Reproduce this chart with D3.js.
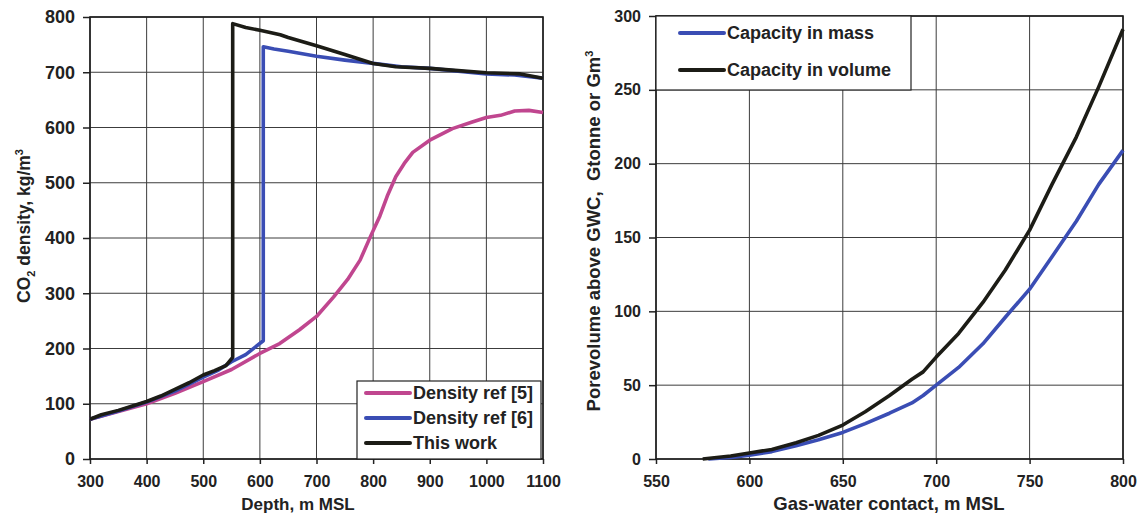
<!DOCTYPE html>
<html>
<head>
<meta charset="utf-8">
<script src="https://cdn.jsdelivr.net/npm/d3@7"></script>
<style>
  body { margin: 0; background: #fff; }
  text { font-family: "Liberation Sans", Arial, sans-serif; font-weight: bold; fill: #222; }
</style>
</head>
<body>
<div id="chart"></div>
<script>
// left panel: CO2 density vs depth
var depthRef5 = [300, 350, 400, 450, 500, 550, 600, 635, 670, 700, 730, 755, 777, 795, 812, 825, 840, 855, 870, 900, 940, 975, 1000, 1025, 1050, 1075, 1100];
var densRef5  = [72, 86, 100, 119, 140, 162, 191, 209, 234, 258, 293, 325, 360, 402, 440, 476, 511, 535, 555, 577, 598, 610, 618, 622, 630, 631, 627];

var depthRef6 = [300, 350, 400, 450, 500, 525, 550, 575, 606, 606, 625, 650, 700, 750, 800, 850, 900, 950, 1000, 1050, 1100];
var densRef6  = [72, 87, 103, 123, 148, 160, 176, 189, 214, 746, 742, 738, 729, 722, 716, 710, 707, 702, 697, 695, 689];

var depthWork = [300, 320, 350, 375, 400, 425, 450, 475, 500, 520, 540, 552, 552, 575, 600, 636, 650, 700, 750, 800, 840, 900, 950, 1000, 1060, 1100];
var densWork  = [72, 80, 88, 96, 104, 114, 126, 138, 152, 160, 169, 184, 788, 781, 776, 768, 763, 748, 732, 716, 710, 707, 703, 699, 697, 689];

var depthTicks = [300, 400, 500, 600, 700, 800, 900, 1000, 1100];
var densTicks = [0, 100, 200, 300, 400, 500, 600, 700, 800];
var leftLegend = ["Density ref [5]", "Density ref [6]", "This work"];

// right panel: capacity vs gas-water contact
var gwcMass = [578, 590, 600, 612, 625, 637, 650, 662, 675, 687, 693, 700, 712, 725, 737, 750, 762, 775, 787, 800];
var massCap = [0, 1, 2.5, 5, 9, 13, 18, 24, 31, 38, 43, 50, 62, 78, 96, 115, 137, 161, 186, 209];

var gwcVol = [575, 590, 600, 612, 625, 637, 650, 662, 675, 687, 693, 700, 712, 725, 737, 750, 762, 775, 787, 800];
var volCap = [0, 2, 4, 6.5, 11, 16, 23, 32, 43, 54, 59, 69, 85, 106, 128, 155, 186, 218, 252, 291];

var gwcTicks = [550, 600, 650, 700, 750, 800];
var capTicks = [0, 50, 100, 150, 200, 250, 300];
var rightLegend = ["Capacity in mass", "Capacity in volume"];

var magenta = "#c0468f", blue = "#3a4db4", black = "#1c1c16";

var svg = d3.select("#chart").append("svg")
  .attr("width", 1140)
  .attr("height", 516);

function zip(xs, ys) { return xs.map(function (x, i) { return [x, ys[i]]; }); }

function panel(opt) {
  var x = d3.scaleLinear().domain(opt.xDomain).range([opt.left, opt.right]);
  var y = d3.scaleLinear().domain(opt.yDomain).range([opt.bottom, opt.top]);
  var w = opt.right - opt.left, h = opt.bottom - opt.top;

  // grid
  svg.append("g").selectAll("line.vg").data(opt.xTicks).enter().append("line")
    .attr("x1", function (d) { return x(d); }).attr("x2", function (d) { return x(d); })
    .attr("y1", opt.top).attr("y2", opt.bottom)
    .attr("stroke", "#3c3c3c").attr("stroke-width", 1);
  svg.append("g").selectAll("line.hg").data(opt.yTicks).enter().append("line")
    .attr("y1", function (d) { return y(d); }).attr("y2", function (d) { return y(d); })
    .attr("x1", opt.left).attr("x2", opt.right)
    .attr("stroke", "#3c3c3c").attr("stroke-width", 1);

  // axes
  var gx = svg.append("g").attr("transform", "translate(0," + opt.bottom + ")")
    .call(d3.axisBottom(x).tickValues(opt.xTicks).tickFormat(d3.format("d")).tickSize(5).tickPadding(12));
  gx.select(".domain").remove();
  gx.selectAll("line").attr("stroke", "#222").attr("stroke-width", 1.5);
  gx.selectAll("text").style("font-size", "16px").attr("fill", "#222");

  var gy = svg.append("g").attr("transform", "translate(" + opt.left + ",0)")
    .call(d3.axisLeft(y).tickValues(opt.yTicks).tickFormat(d3.format("d")).tickSize(7).tickPadding(8));
  gy.select(".domain").remove();
  gy.selectAll("line").attr("stroke", "#222").attr("stroke-width", 1.5);
  gy.selectAll("text").style("font-size", opt.yFont + "px").attr("fill", "#222");

  // plot frame
  svg.append("rect")
    .attr("x", opt.left).attr("y", opt.top).attr("width", w).attr("height", h)
    .attr("fill", "none").attr("stroke", "#1c1c1c").attr("stroke-width", 1.6);

  var line = d3.line().x(function (d) { return x(d[0]); }).y(function (d) { return y(d[1]); });
  opt.series.forEach(function (s) {
    svg.append("path").datum(s.data)
      .attr("d", line)
      .attr("fill", "none")
      .attr("stroke", s.color)
      .attr("stroke-width", 3.6)
      .attr("stroke-linejoin", "round");
  });
  return { x: x, y: y };
}

panel({
  left: 90, right: 543, top: 17, bottom: 459,
  xDomain: [300, 1100], yDomain: [0, 800],
  xTicks: depthTicks, yTicks: densTicks, yFont: 18,
  series: [
    { data: zip(depthRef5, densRef5), color: magenta },
    { data: zip(depthRef6, densRef6), color: blue },
    { data: zip(depthWork, densWork), color: black }
  ]
});

panel({
  left: 656, right: 1123, top: 16, bottom: 459,
  xDomain: [550, 800], yDomain: [0, 300],
  xTicks: gwcTicks, yTicks: capTicks, yFont: 16,
  series: [
    { data: zip(gwcMass, massCap), color: blue },
    { data: zip(gwcVol, volCap), color: black }
  ]
});

// legends
function legend(bx, by, bw, bh, items, colors, rowY, lineX) {
  svg.append("rect").attr("x", bx).attr("y", by).attr("width", bw).attr("height", bh)
    .attr("fill", "#fff").attr("stroke", "#222").attr("stroke-width", 1.2);
  items.forEach(function (t, i) {
    svg.append("line")
      .attr("x1", lineX).attr("x2", lineX + 44)
      .attr("y1", rowY[i]).attr("y2", rowY[i])
      .attr("stroke", colors[i]).attr("stroke-width", 4).attr("stroke-linecap", "round");
    svg.append("text")
      .attr("x", lineX + 47).attr("y", rowY[i] + 6)
      .style("font-size", "18px")
      .text(t);
  });
}
legend(357, 381, 184, 78, leftLegend, [magenta, blue, black], [393, 418, 443], 366);
legend(656, 16, 255, 74, rightLegend, [blue, black], [33, 70], 680);

// axis titles
var yl = svg.append("text")
  .attr("transform", "translate(30,226) rotate(-90)")
  .attr("text-anchor", "middle")
  .style("font-size", "17.5px");
yl.append("tspan").text("CO");
yl.append("tspan").attr("dy", 5).style("font-size", "11px").text("2");
yl.append("tspan").attr("dy", -5).text(" density, kg/m");
yl.append("tspan").attr("dy", -7).style("font-size", "11px").text("3");

var yr = svg.append("text")
  .attr("transform", "translate(600,231) rotate(-90)")
  .attr("text-anchor", "middle")
  .style("font-size", "18.5px")
  .style("white-space", "pre");
yr.append("tspan").text("Porevolume above GWC,  Gtonne or Gm");
yr.append("tspan").attr("dy", -7).style("font-size", "11px").text("3");

svg.append("text").attr("x", 298).attr("y", 510).attr("text-anchor", "middle")
  .style("font-size", "17px").text("Depth, m MSL");
svg.append("text").attr("x", 889).attr("y", 510).attr("text-anchor", "middle")
  .style("font-size", "18.5px").text("Gas-water contact, m MSL");
</script>
</body>
</html>
